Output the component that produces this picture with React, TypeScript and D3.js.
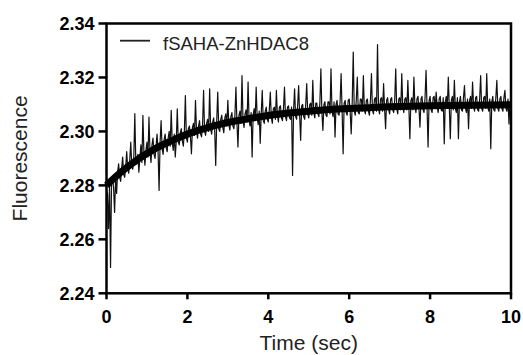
import React from 'react';
import * as d3 from 'd3';

// x ticks / y ticks
const xTicks = [0, 2, 4, 6, 8, 10];
const yTicks = [2.24, 2.26, 2.28, 2.30, 2.32, 2.34];
const legendLabel = 'fSAHA-ZnHDAC8';

// raw stopped-flow trace (time in sec), one row = 0.25 s
const traceTime = [
  0, .025, .05, .075, .1, .125, .15, .175, .2, .225,
  .25, .275, .3, .325, .35, .375, .4, .425, .45, .475,
  .5, .525, .55, .575, .6, .625, .65, .675, .7, .725,
  .75, .775, .8, .825, .85, .875, .9, .925, .95, .975,
  1, 1.025, 1.05, 1.075, 1.1, 1.125, 1.15, 1.175, 1.2, 1.225,
  1.25, 1.275, 1.3, 1.325, 1.35, 1.375, 1.4, 1.425, 1.45, 1.475,
  1.5, 1.525, 1.55, 1.575, 1.6, 1.625, 1.65, 1.675, 1.7, 1.725,
  1.75, 1.775, 1.8, 1.825, 1.85, 1.875, 1.9, 1.925, 1.95, 1.975,
  2, 2.025, 2.05, 2.075, 2.1, 2.125, 2.15, 2.175, 2.2, 2.225,
  2.25, 2.275, 2.3, 2.325, 2.35, 2.375, 2.4, 2.425, 2.45, 2.475,
  2.5, 2.525, 2.55, 2.575, 2.6, 2.625, 2.65, 2.675, 2.7, 2.725,
  2.75, 2.775, 2.8, 2.825, 2.85, 2.875, 2.9, 2.925, 2.95, 2.975,
  3, 3.025, 3.05, 3.075, 3.1, 3.125, 3.15, 3.175, 3.2, 3.225,
  3.25, 3.275, 3.3, 3.325, 3.35, 3.375, 3.4, 3.425, 3.45, 3.475,
  3.5, 3.525, 3.55, 3.575, 3.6, 3.625, 3.65, 3.675, 3.7, 3.725,
  3.75, 3.775, 3.8, 3.825, 3.85, 3.875, 3.9, 3.925, 3.95, 3.975,
  4, 4.025, 4.05, 4.075, 4.1, 4.125, 4.15, 4.175, 4.2, 4.225,
  4.25, 4.275, 4.3, 4.325, 4.35, 4.375, 4.4, 4.425, 4.45, 4.475,
  4.5, 4.525, 4.55, 4.575, 4.6, 4.625, 4.65, 4.675, 4.7, 4.725,
  4.75, 4.775, 4.8, 4.825, 4.85, 4.875, 4.9, 4.925, 4.95, 4.975,
  5, 5.025, 5.05, 5.075, 5.1, 5.125, 5.15, 5.175, 5.2, 5.225,
  5.25, 5.275, 5.3, 5.325, 5.35, 5.375, 5.4, 5.425, 5.45, 5.475,
  5.5, 5.525, 5.55, 5.575, 5.6, 5.625, 5.65, 5.675, 5.7, 5.725,
  5.75, 5.775, 5.8, 5.825, 5.85, 5.875, 5.9, 5.925, 5.95, 5.975,
  6, 6.025, 6.05, 6.075, 6.1, 6.125, 6.15, 6.175, 6.2, 6.225,
  6.25, 6.275, 6.3, 6.325, 6.35, 6.375, 6.4, 6.425, 6.45, 6.475,
  6.5, 6.525, 6.55, 6.575, 6.6, 6.625, 6.65, 6.675, 6.7, 6.725,
  6.75, 6.775, 6.8, 6.825, 6.85, 6.875, 6.9, 6.925, 6.95, 6.975,
  7, 7.025, 7.05, 7.075, 7.1, 7.125, 7.15, 7.175, 7.2, 7.225,
  7.25, 7.275, 7.3, 7.325, 7.35, 7.375, 7.4, 7.425, 7.45, 7.475,
  7.5, 7.525, 7.55, 7.575, 7.6, 7.625, 7.65, 7.675, 7.7, 7.725,
  7.75, 7.775, 7.8, 7.825, 7.85, 7.875, 7.9, 7.925, 7.95, 7.975,
  8, 8.025, 8.05, 8.075, 8.1, 8.125, 8.15, 8.175, 8.2, 8.225,
  8.25, 8.275, 8.3, 8.325, 8.35, 8.375, 8.4, 8.425, 8.45, 8.475,
  8.5, 8.525, 8.55, 8.575, 8.6, 8.625, 8.65, 8.675, 8.7, 8.725,
  8.75, 8.775, 8.8, 8.825, 8.85, 8.875, 8.9, 8.925, 8.95, 8.975,
  9, 9.025, 9.05, 9.075, 9.1, 9.125, 9.15, 9.175, 9.2, 9.225,
  9.25, 9.275, 9.3, 9.325, 9.35, 9.375, 9.4, 9.425, 9.45, 9.475,
  9.5, 9.525, 9.55, 9.575, 9.6, 9.625, 9.65, 9.675, 9.7, 9.725,
  9.75, 9.775, 9.8, 9.825, 9.85, 9.875, 9.9, 9.925, 9.95, 9.975,
  10,
];
const traceSignal = [
  2.2780, 2.2770, 2.2640, 2.2800, 2.2496, 2.2815, 2.2832, 2.2790, 2.2700, 2.2825,
  2.2770, 2.2850, 2.2880, 2.2830, 2.2815, 2.2865, 2.2905, 2.2840, 2.2830, 2.2870,
  2.2925, 2.2860, 2.2845, 2.2895, 2.2960, 2.2870, 2.2860, 2.2905, 2.3066, 2.2885,
  2.2880, 2.2915, 2.2849, 2.2900, 2.2950, 2.2885, 2.3060, 2.2920, 2.2875, 2.2930,
  2.2960, 2.2905, 2.3053, 2.2925, 2.2885, 2.2950, 2.2975, 2.2915, 2.2900, 2.2945,
  2.2990, 2.2925, 2.2781, 2.2960, 2.3040, 2.2935, 2.2915, 2.2970, 2.2990, 2.2940,
  2.2925, 2.2975, 2.3000, 2.2945, 2.3078, 2.2960, 2.2930, 2.2990, 2.2905, 2.2965,
  2.3084, 2.2960, 2.2950, 2.2995, 2.3010, 2.2965, 2.2945, 2.3000, 2.3133, 2.2975,
  2.2960, 2.3010, 2.3020, 2.2980, 2.2917, 2.3015, 2.3030, 2.2985, 2.3115, 2.3005,
  2.2975, 2.3020, 2.3040, 2.2990, 2.2980, 2.3025, 2.3152, 2.3000, 2.2985, 2.3030,
  2.3045, 2.3000, 2.3158, 2.3010, 2.2990, 2.3035, 2.3050, 2.3005, 2.2874, 2.3040,
  2.3146, 2.3010, 2.3000, 2.3045, 2.3060, 2.3015, 2.2995, 2.3050, 2.3065, 2.3020,
  2.3115, 2.3025, 2.3005, 2.3055, 2.3070, 2.3020, 2.3010, 2.3060, 2.3164, 2.3030,
  2.2942, 2.3060, 2.3075, 2.3030, 2.3207, 2.3040, 2.3015, 2.3065, 2.3080, 2.3035,
  2.3183, 2.3040, 2.3020, 2.3070, 2.2905, 2.3060, 2.3085, 2.3040, 2.3164, 2.3050,
  2.3025, 2.3075, 2.2956, 2.3065, 2.3152, 2.3040, 2.3030, 2.3075, 2.3090, 2.3045,
  2.3035, 2.3080, 2.3146, 2.3050, 2.3030, 2.3085, 2.3090, 2.3045, 2.3152, 2.3060,
  2.3035, 2.3090, 2.3095, 2.3050, 2.3040, 2.3085, 2.3164, 2.3055, 2.3040, 2.3090,
  2.3095, 2.3050, 2.3045, 2.3090, 2.2837, 2.3080, 2.3158, 2.3055, 2.3045, 2.3095,
  2.3170, 2.3060, 2.2967, 2.3095, 2.3100, 2.3055, 2.3045, 2.3100, 2.3177, 2.3065,
  2.3050, 2.3100, 2.3105, 2.3060, 2.3189, 2.3070, 2.3050, 2.3105, 2.3105, 2.3065,
  2.3055, 2.3105, 2.3232, 2.3070, 2.3004, 2.3100, 2.3110, 2.3060, 2.3055, 2.3110,
  2.3110, 2.3065, 2.3232, 2.3075, 2.3055, 2.3110, 2.2979, 2.3100, 2.3115, 2.3065,
  2.3060, 2.3110, 2.3214, 2.3075, 2.2917, 2.3105, 2.3115, 2.3070, 2.3060, 2.3115,
  2.3120, 2.3070, 2.2991, 2.3110, 2.3294, 2.3075, 2.3060, 2.3115, 2.3201, 2.3070,
  2.3065, 2.3120, 2.3120, 2.3075, 2.3207, 2.3080, 2.3065, 2.3115, 2.3120, 2.3075,
  2.3060, 2.3115, 2.3214, 2.3080, 2.3065, 2.3120, 2.3125, 2.3075, 2.3322, 2.3085,
  2.3065, 2.3120, 2.3125, 2.3075, 2.3177, 2.3085, 2.3010, 2.3115, 2.3125, 2.3080,
  2.3065, 2.3120, 2.3125, 2.3080, 2.3070, 2.3115, 2.3232, 2.3085, 2.3065, 2.3120,
  2.3125, 2.3080, 2.3214, 2.3090, 2.3070, 2.3120, 2.3125, 2.3080, 2.3189, 2.3090,
  2.2973, 2.3115, 2.3125, 2.3080, 2.3201, 2.3090, 2.3070, 2.3120, 2.3130, 2.3085,
  2.3016, 2.3120, 2.3130, 2.3080, 2.3070, 2.3125, 2.3226, 2.3085, 2.2942, 2.3115,
  2.3130, 2.3080, 2.3070, 2.3125, 2.3130, 2.3085, 2.3146, 2.3090, 2.3070, 2.3120,
  2.3130, 2.3080, 2.3075, 2.3125, 2.2954, 2.3110, 2.3130, 2.3085, 2.3201, 2.3090,
  2.2973, 2.3115, 2.3130, 2.3080, 2.3189, 2.3085, 2.3070, 2.3125, 2.2973, 2.3110,
  2.3130, 2.3080, 2.3075, 2.3125, 2.3170, 2.3085, 2.3070, 2.3120, 2.3010, 2.3115,
  2.3130, 2.3085, 2.3183, 2.3090, 2.3075, 2.3125, 2.3130, 2.3080, 2.3075, 2.3120,
  2.3207, 2.3085, 2.3075, 2.3125, 2.3130, 2.3085, 2.3214, 2.3090, 2.3075, 2.3120,
  2.2936, 2.3110, 2.3130, 2.3080, 2.3075, 2.3125, 2.3189, 2.3085, 2.3075, 2.3120,
  2.3130, 2.3085, 2.3075, 2.3125, 2.3152, 2.3085, 2.3075, 2.3120, 2.3028, 2.3110,
  2.3100,
];

// single-exponential fit
const fitTime = [0, 0.25, 0.5, 0.75, 1, 1.25, 1.5, 1.75, 2, 2.25, 2.5, 2.75, 3, 3.5, 4, 4.5, 5, 5.5, 6, 6.5, 7, 8, 9, 10];
const fitSignal = [
  2.2800, 2.2835, 2.2866, 2.2894, 2.2918, 2.2940, 2.2958, 2.2975, 2.2990, 2.3003,
  2.3014, 2.3024, 2.3033, 2.3047, 2.3059, 2.3068, 2.3075, 2.3081, 2.3085, 2.3088,
  2.3091, 2.3095, 2.3097, 2.3099,
];

const W = 523;
const H = 355;
const left = 106.5;
const right = 511;
const top = 23.5;
const bottom = 293.3;
const font = "'Liberation Sans', Arial, Helvetica, sans-serif";

export default function App() {
  const x = d3.scaleLinear().domain([0, 10]).range([left, right]);
  const y = d3.scaleLinear().domain([2.24, 2.34]).range([bottom, top]);

  const traceLine = d3.line<number>()
    .x((_, i) => x(traceTime[i]))
    .y(d => y(d));
  const fitLine = d3.line<number>()
    .x((_, i) => x(fitTime[i]))
    .y(d => y(d))
    .curve(d3.curveMonotoneX);

  return (
    <svg width={W} height={H} style={{ position: 'absolute', left: 0, top: 0, background: 'white', fontFamily: font }}>
      {/* data */}
      <path d={traceLine(traceSignal) || ''} fill="none" stroke="#111" strokeWidth={1.2} strokeLinejoin="round" />
      <path d={fitLine(fitSignal) || ''} fill="none" stroke="#000" strokeWidth={7} strokeLinecap="butt" />

      {/* frame */}
      <rect x={left} y={top} width={right - left} height={bottom - top} fill="none" stroke="#000" strokeWidth={2.5} />

      {/* y axis */}
      {yTicks.map(t => (
        <g key={'y' + t}>
          <line x1={left - 8} x2={left} y1={y(t)} y2={y(t)} stroke="#000" strokeWidth={2.5} />
          <text x={left - 12} y={y(t)} dy="0.36em" textAnchor="end" fontSize={18} fontWeight="bold">
            {t.toFixed(2)}
          </text>
        </g>
      ))}

      {/* x axis */}
      {xTicks.map(t => (
        <g key={'x' + t}>
          <line x1={x(t)} x2={x(t)} y1={bottom} y2={bottom + 6} stroke="#000" strokeWidth={2.5} />
          <text x={x(t)} y={323.3} textAnchor="middle" fontSize={18} fontWeight="bold">
            {t}
          </text>
        </g>
      ))}

      <text x={(left + right) / 2} y={350} textAnchor="middle" fontSize={21} fill="#222">Time (sec)</text>
      <text transform={`translate(27,${(top + bottom) / 2}) rotate(-90)`} textAnchor="middle" fontSize={21} fill="#222">
        Fluorescence
      </text>

      {/* legend */}
      <line x1={120} x2={150} y1={40.7} y2={40.7} stroke="#222" strokeWidth={1.8} />
      <text x={163} y={49.5} fontSize={18.5} fill="#222">{legendLabel}</text>
    </svg>
  );
}
